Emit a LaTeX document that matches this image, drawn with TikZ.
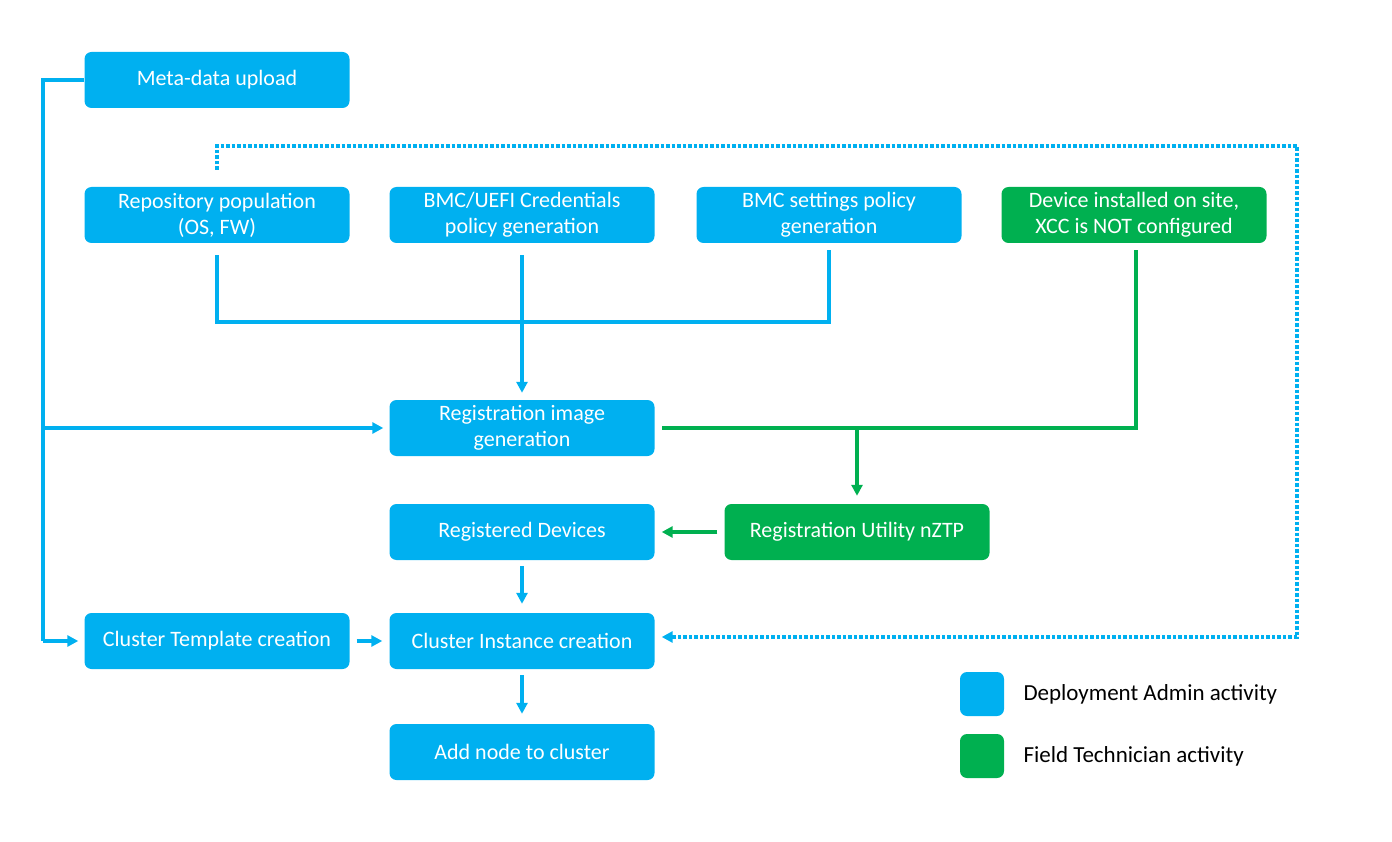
\documentclass[tikz,border=0pt]{standalone}
\usepackage{fontspec}
\setmainfont{Carlito}
\usetikzlibrary{arrows.meta}
\definecolor{admin}{HTML}{00B0F0}
\definecolor{field}{HTML}{00B050}
\tikzset{
  box/.style={shape=rectangle,rounded corners=7pt,fill=admin,text=white,minimum width=265pt,minimum height=56pt,align=center,font=\fontsize{22}{26}\selectfont},
  fbox/.style={box,fill=field},
  link/.style={line width=3.5pt,admin,-{Triangle[length=11pt,width=11pt]}},
  flink/.style={link,field},
  wire/.style={line width=3.5pt,admin},
  legend/.style={anchor=west,font=\fontsize{23}{27}\selectfont},
}
\begin{document}
\begin{tikzpicture}[x=1pt,y=-1pt]
        \useasboundingbox (0,0) rectangle (1392,842);
        \node[box] (meta) at (217,80) {Meta-data upload};
        \node[box] (repo) at (217,215) {Repository population\\(OS, FW)};
        \node[box] (cred) at (522,215) {BMC/UEFI Credentials\\policy generation};
        \node[box] (bmc) at (829,215) {BMC settings policy\\generation};
        \node[fbox] (dev) at (1134,215) {Device installed on site,\\XCC is NOT configured};
        \node[box] (img) at (522,428) {Registration image\\generation};
        \node[box] (reg) at (522,532) {Registered Devices};
        \node[fbox] (ztp) at (857,532) {Registration Utility nZTP};
        \node[box] (tmpl) at (217,641) {Cluster Template creation};
        \node[box] (inst) at (522,641) {Cluster Instance creation};
        \node[box] (add) at (522,752) {Add node to cluster};
        \node[box,minimum width=44pt,minimum height=44pt] (ladm) at (982,694) {};
        \node[fbox,minimum width=44pt,minimum height=44pt] (lfld) at (982,756) {};
        \node[legend] (tadm) at (1020,694) {Deployment Admin activity};
        \node[legend] (tfld) at (1020,756) {Field Technician activity};

        %admin flow
        \coordinate (m1) at (43,80);
        \coordinate (m2) at (43,428);
        \coordinate (m3) at (43,641);
        \coordinate (r1) at (217,322);
        \coordinate (r2) at (829,322);
        \draw[wire] (meta.west) -- (m1) -- (m3);
        \draw[link] (m3) -- ([xshift=-6pt]tmpl.west);
        \draw[link] (m2) -- ([xshift=-6pt]img.west);
        \draw[wire] ([yshift=-12pt]repo.south) -- (r1) -- (r2) -- ([yshift=-7pt]bmc.south);
        \draw[link] ([yshift=-12pt]cred.south) -- ([yshift=7pt]img.north);
        \draw[link] ([yshift=-6pt]reg.south) -- ([yshift=9pt]inst.north);
        \draw[link] ([xshift=7pt]tmpl.east) -- ([xshift=-7pt]inst.west);
        \draw[link] ([yshift=-6pt]inst.south) -- ([yshift=10pt]add.north);

        %field flow
        \coordinate (g1) at (1136,428);
        \coordinate (g2) at (857,428);
        \draw[line width=3.5pt,field] ([xshift=2pt,yshift=-7pt]dev.south) -- (g1) -- ([xshift=7pt]img.east);
        \draw[flink] (g2) -- ([yshift=8pt]ztp.north);
        \draw[flink] ([xshift=-7pt]ztp.west) -- ([xshift=7pt]reg.east);

        %loop back
        \coordinate (d1) at (217,146);
        \coordinate (d2) at (1297,146);
        \coordinate (d3) at (1297,637);
        \draw[link,dotted] (217,170) -- (d1) -- (d2) -- (d3) -- ([xshift=7pt,yshift=4pt]inst.east);
\end{tikzpicture}
\end{document}
